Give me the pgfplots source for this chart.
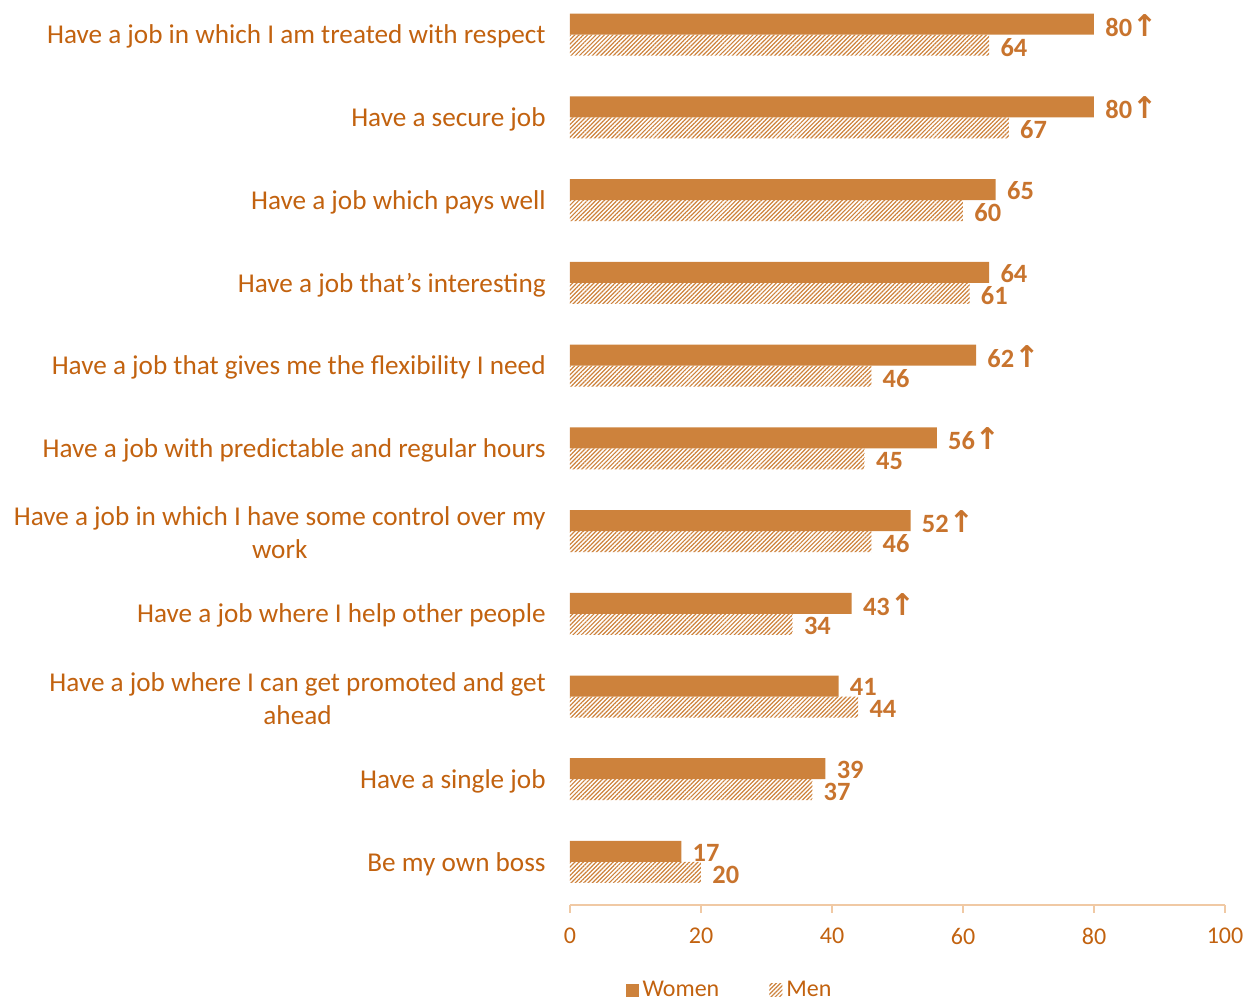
\documentclass[border=0pt]{standalone}
\usepackage{fontspec}
\setmainfont{Carlito}
\newfontfamily\arrowfont{DejaVu Sans}
\usepackage{pgfplots}
\pgfplotsset{compat=1.18}
\usetikzlibrary{patterns.meta}
\definecolor{barc}{HTML}{CD823C}
\definecolor{txt}{HTML}{C2620F}
\definecolor{valc}{HTML}{C8742E}
\definecolor{axc}{HTML}{F0C9A4}
\protected\def\up{{\arrowfont\bfseries\fontsize{15}{15}\selectfont ↑}}
\begin{document}
\begin{tikzpicture}
\path[use as bounding box] (0,0) rectangle (630pt,500pt);
\begin{axis}[
  at={(285pt,47.5pt)}, anchor=south west,
  scale only axis, width=327.5pt, height=452.5pt,
  xmin=0, xmax=100, ymin=-0.52, ymax=10.42,
  xbar, bar width=10.5pt,
  axis x line*=bottom, axis y line*=left,
  y axis line style={draw=none},
  x axis line style={axc, line width=0.8pt},
  xtick={0,20,...,100},
  xtick style={axc, line width=0.8pt},
  major tick length=4pt, tick align=outside,
  ytick={0,...,10},
  ytick style={draw=none},
  yticklabels={Be my own boss, Have a single job, Have a job where I can get promoted and get\\ahead, Have a job where I help other people, Have a job in which I have some control over my\\work, Have a job with predictable and regular hours, Have a job that gives me the flexibility I need, Have a job that’s interesting, Have a job which pays well, Have a secure job, Have a job in which I am treated with respect},
  yticklabel style={align=center, inner sep=0pt, xshift=-8pt, yshift=-1pt, font=\fontsize{13.6}{16.5}\selectfont},
  xticklabel style={yshift=-4pt},
  ticklabel style={font=\fontsize{12}{16.5}\selectfont, text=txt},
  /pgf/number format/assume math mode=true,
  legend style={draw=none, at={(0.245,-0.094)}, anchor=center, legend columns=2,
    font=\fontsize{12}{14}\selectfont, text=txt,
    /tikz/every even column/.append style={column sep=23pt}},
  legend image code/.code={\fill[#1] (-1.5pt,-3.25pt) rectangle (5pt,3.25pt);},
  nodes near coords,
  point meta=explicit symbolic,
  nodes near coords style={anchor=west, inner sep=0pt, xshift=5.5pt,
    font=\bfseries\fontsize{13.2}{14}\selectfont, text=valc},
]
\addplot[fill=barc, draw=none, bar shift=5.25pt,
  nodes near coords style={yshift=-0.5pt}] coordinates {
  (80,10) [80\up]
  (80,9) [80\up]
  (65,8) [65]
  (64,7) [64]
  (62,6) [62\up]
  (56,5) [56\up]
  (52,4) [52\up]
  (43,3) [43\up]
  (41,2) [41]
  (39,1) [39]
  (17,0) [17]
};
\addlegendentry{Women}
\addplot[pattern={Lines[angle=45,distance=1.5pt,line width=0.6pt]}, pattern color=barc, draw=none, bar shift=-5.25pt,
  nodes near coords style={yshift=-1pt}] coordinates {
  (64,10) [64]
  (67,9) [67]
  (60,8) [60]
  (61,7) [61]
  (46,6) [46]
  (45,5) [45]
  (46,4) [46]
  (34,3) [34]
  (44,2) [44]
  (37,1) [37]
  (20,0) [20]
};
\addlegendentry{Men}
\end{axis}
\end{tikzpicture}
\end{document}
